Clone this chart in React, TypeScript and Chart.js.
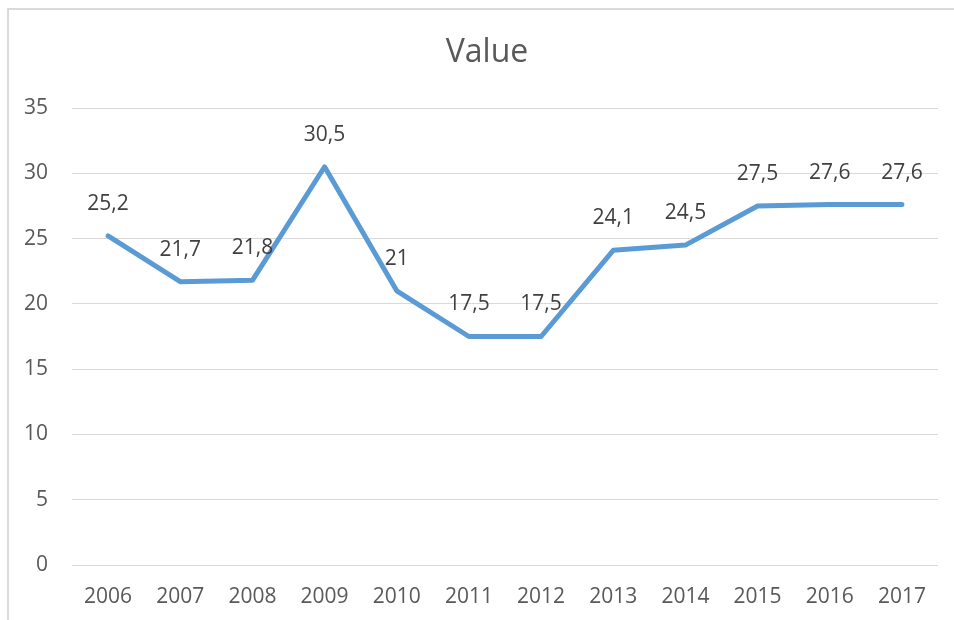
import React, { useEffect, useRef } from "react";
import { Chart, registerables } from "chart.js";

Chart.register(...registerables);

const categories = ["2006", "2007", "2008", "2009", "2010", "2011", "2012", "2013", "2014", "2015", "2016", "2017"];
const values = [25.2, 21.7, 21.8, 30.5, 21, 17.5, 17.5, 24.1, 24.5, 27.5, 27.6, 27.6];
const seriesName = "Value";
const yMin = 0;
const yMax = 35;
const yStep = 5;

const FONT = "'Open Sans', 'DejaVu Sans', sans-serif";

const frameAndTitlePlugin = {
  id: "frameAndTitle",
  beforeDraw(chart: any) {
    const ctx = chart.ctx;
    ctx.save();
    ctx.fillStyle = "#ffffff";
    ctx.fillRect(0, 0, chart.width, chart.height);
    ctx.fillStyle = "#d9d9d9";
    ctx.fillRect(7, 8, chart.width, 2);
    ctx.fillRect(7, 8, 2, chart.height);
    ctx.restore();
  },
  afterDraw(chart: any) {
    const ctx = chart.ctx;
    ctx.save();
    ctx.font = `32px ${FONT}`;
    ctx.fillStyle = "#595959";
    ctx.textAlign = "center";
    ctx.textBaseline = "middle";
    ctx.fillText(seriesName, 487, 53);
    ctx.restore();
  },
};

const dataLabelPlugin = {
  id: "dataLabels",
  afterDatasetsDraw(chart: any) {
    const ctx = chart.ctx;
    const meta = chart.getDatasetMeta(0);
    ctx.save();
    ctx.font = `21px ${FONT}`;
    ctx.fillStyle = "#404040";
    ctx.textAlign = "center";
    ctx.textBaseline = "middle";
    meta.data.forEach((pt: any, i: number) => {
      const txt = String(values[i]).replace(".", ",");
      ctx.fillText(txt, pt.x, pt.y - 32);
    });
    ctx.restore();
  },
};

export default function App() {
  const ref = useRef<HTMLCanvasElement | null>(null);
  useEffect(() => {
    const chart = new Chart(ref.current as HTMLCanvasElement, {
      type: "line",
      data: {
        labels: categories,
        datasets: [
          {
            label: seriesName,
            data: values,
            borderColor: "#5b9bd5",
            backgroundColor: "#5b9bd5",
            borderWidth: 5,
            borderJoinStyle: "round",
            borderCapStyle: "round",
            pointRadius: 0,
            tension: 0,
          },
        ],
      },
      options: {
        animation: false,
        responsive: false,
        maintainAspectRatio: false,
        layout: { padding: { left: 0, right: 16, top: 108, bottom: 0 } },
        plugins: {
          legend: { display: false },
          tooltip: { enabled: false },
          title: { display: false },
        },
        scales: {
          x: {
            offset: true,
            grid: { display: false, drawTicks: false },
            border: { display: false },
            ticks: {
              color: "#595959",
              font: { family: FONT, size: 21 },
              padding: 19,
              maxRotation: 0,
              autoSkip: false,
            },
            afterFit(scale: any) {
              scale.height = 55;
            },
          },
          y: {
            min: yMin,
            max: yMax,
            grid: { color: "#d9d9d9", lineWidth: 1, drawTicks: false },
            border: { display: false },
            ticks: {
              stepSize: yStep,
              color: "#595959",
              font: { family: FONT, size: 21 },
              padding: 24,
            },
            afterFit(scale: any) {
              scale.width = 72;
            },
          },
        },
      },
      plugins: [frameAndTitlePlugin, dataLabelPlugin],
    } as any);
    return () => chart.destroy();
  }, []);

  return (
    <canvas
      ref={ref}
      width={954}
      height={620}
      style={{ position: "fixed", left: 0, top: 0, display: "block" }}
    />
  );
}
